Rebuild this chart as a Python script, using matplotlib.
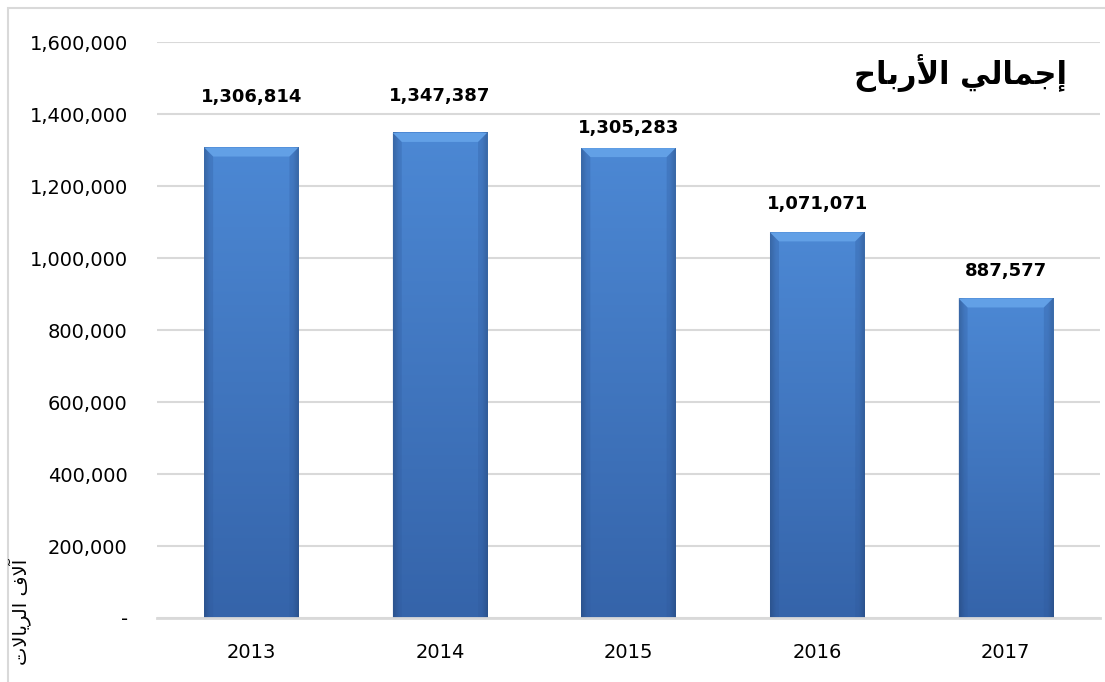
# Import
import numpy as np
import matplotlib.pyplot as plt
from matplotlib.patches import Polygon, Rectangle
from matplotlib.ticker import FuncFormatter

# Données
annees = ["2013", "2014", "2015", "2016", "2017"]
profits = [1306814, 1347387, 1305283, 1071071, 887577]
yticks = [0, 200000, 400000, 600000, 800000, 1000000, 1200000, 1400000, 1600000]

# Texte arabe (formes de présentation, ordre visuel)
titre = "\uFEA1\uFE8E\uFE91\uFEAD\uFEF7\uFE8D \uFEF2\uFEDF\uFE8E\uFEE4\uFE9F\uFE87"
unite = "\uFE95\uFEFB\uFE8E\uFEF3\uFEAE\uFEDF\uFE8D \uFED1\uFEFB\uFE81"

# décalage des étiquettes au-dessus des barres (pixels)
decalage_etiquettes = [51, 37, 20, 28, 27]

W, H = 1105, 682
fig = plt.figure(figsize=(W / 100, H / 100), dpi=100)
ax = fig.add_axes([157 / W, (H - 618) / H, (1100 - 157) / W, (618 - 42) / H])

x = np.arange(len(annees))
largeur = 0.5
ymax = 1600000
ax.set_xlim(-0.5, len(annees) - 0.5)
ax.set_ylim(0, ymax)

# grille
ax.set_yticks(yticks)
ax.grid(axis="y", color="#d9d9d9", lw=1.5, zorder=0)
ax.set_axisbelow(True)
for s in ["top", "right", "left"]:
    ax.spines[s].set_visible(False)
ax.spines["bottom"].set_color("#d9d9d9")
ax.spines["bottom"].set_linewidth(2)
ax.spines["bottom"].set_zorder(5)

# dégradé des barres
haut = np.array([0x4c, 0x88, 0xd4]) / 255
bas = np.array([0x35, 0x64, 0xaa]) / 255
t = np.linspace(0, 1, 100)[:, None]
vert = haut * (1 - t) + bas * t
u = np.linspace(0, 1, 60)
bord = 1 - 0.18 * (np.clip(1 - np.minimum(u, 1 - u) / 0.06, 0, 1))
grad = vert[:, None, :] * bord[None, :, None]

px_y = ymax / 576
px_x = 5 / 943
for xi, v, dy in zip(x, profits, decalage_etiquettes):
    g, d = xi - largeur / 2, xi + largeur / 2
    ax.imshow(grad, extent=[g, d, 0, v], aspect="auto", zorder=2, interpolation="bilinear")
    # biseau supérieur
    b = 9
    cap = Polygon([[g, v], [d, v], [d - b * px_x, v - b * px_y], [g + b * px_x, v - b * px_y]],
                  closed=True, facecolor="#62a0e6", edgecolor="none", zorder=3)
    ax.add_patch(cap)
    ax.add_patch(Polygon([[g, v], [g + b * px_x, v - b * px_y], [g + b * px_x, 0], [g, 0]],
                         closed=True, facecolor="#2f5a9c", alpha=0.3, edgecolor="none", zorder=3))
    ax.add_patch(Polygon([[d, v], [d - b * px_x, v - b * px_y], [d - b * px_x, 0], [d, 0]],
                         closed=True, facecolor="#2f5a9c", alpha=0.3, edgecolor="none", zorder=3))
    ax.annotate(f"{v:,}", (xi, v), xytext=(0, dy * 0.72), textcoords="offset points",
                ha="center", va="center", fontsize=13, fontweight="bold", color="black")

ax.set_xticks(x)
ax.set_xticklabels(annees)
ax.yaxis.set_major_formatter(FuncFormatter(lambda v, p: "-" if v == 0 else f"{v:,.0f}"))
ax.tick_params(axis="y", length=0, pad=21, labelsize=14, labelcolor="black")
ax.tick_params(axis="x", length=0, pad=18, labelsize=14, labelcolor="black")

# titre et unité
fig.text(1067 / W, 1 - 73 / H, titre, ha="right", va="center", fontsize=22,
         fontweight="bold", family=["DejaVu Sans"])
fig.text(20 / W, 1 - 612 / H, unite, rotation=90, ha="center", va="center", fontsize=14,
         family=["DejaVu Sans"])

# cadre
fig.add_artist(Rectangle((8 / W, -0.1), 1.2, 1 - 8 / H + 0.1, transform=fig.transFigure,
                         fill=False, edgecolor="#d9d9d9", lw=1.5))

plt.savefig("out.png", dpi=100)
